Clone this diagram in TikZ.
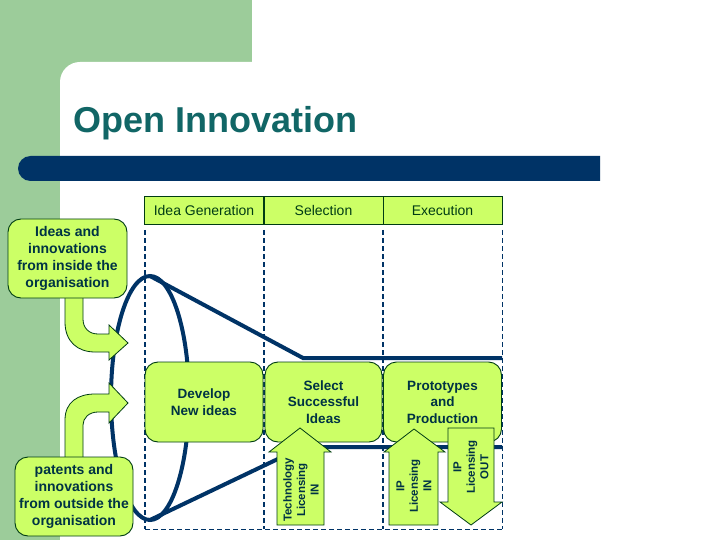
\documentclass[tikz,border=0pt]{standalone}
\usepackage{fontspec}
\setmainfont{Liberation Sans}

\definecolor{slidegreen}{RGB}{156,204,154}
\definecolor{barnavy}{RGB}{0,51,102}
\definecolor{titleteal}{RGB}{17,102,102}
\definecolor{boxlime}{RGB}{204,255,102}
\definecolor{boxedge}{RGB}{0,60,20}
\definecolor{labelink}{RGB}{0,51,68}

\tikzset{
  headbox/.style={draw=boxedge, fill=boxlime, line width=0.9pt, minimum width=119pt, minimum height=28pt, inner sep=0pt, text=boxedge, font=\fontsize{14}{16}\selectfont},
  stagebox/.style={draw=boxedge, fill=boxlime, line width=0.9pt, rounded corners=13pt, minimum width=118pt, minimum height=80pt, inner sep=0pt, align=center, text=labelink, font=\fontsize{13.5}{16.5}\selectfont\bfseries},
  sourcebox/.style={stagebox, minimum width=119pt, minimum height=79pt, font=\fontsize{14}{17}\selectfont\bfseries},
  lanedash/.style={barnavy, line width=1.6pt, dash pattern=on 5pt off 3pt},
  funnel/.style={barnavy, line width=4pt},
  bigarrow/.style={draw=boxedge, fill=boxlime, line width=0.8pt, line join=miter},
  arrowtext/.style={rotate=90, align=center, inner sep=0pt, text=labelink, font=\fontsize{11.5}{13.5}\selectfont\bfseries}
}

\begin{document}
\begin{tikzpicture}[x=1pt,y=-1pt]
\useasboundingbox (0,0) rectangle (720,540);
\fill[white] (0,0) rectangle (720,540);

% slide background
\fill[slidegreen] (0,0) rectangle (252,540);
\fill[white] (60,540) -- (60,82) arc[start angle=180, end angle=270, radius=20] -- (720,62) -- (720,540) -- cycle;

\node[anchor=base west, inner sep=0pt, text=titleteal, font=\fontsize{36}{42}\selectfont\bfseries] (title) at (73,133) {Open Innovation};
\fill[barnavy] (600,156) -- (30.5,156) arc[start angle=270, end angle=90, radius=12.5] -- (600,181) -- cycle;

% stage headers
\node[headbox] (ideagen) at (204,210) {Idea Generation};
\node[headbox] (selection) at (323.5,210) {Selection};
\node[headbox] (execution) at (442.5,210) {Execution};

\foreach \x in {145,264,383}
  \draw[lanedash] (\x,230) -- (\x,529);
\draw[barnavy, line width=0.8pt, dash pattern=on 5pt off 3pt] (502,230) -- (502,529);
\draw[barnavy, line width=0.8pt, dash pattern=on 5pt off 3pt] (145,529) -- (502,529);

% funnel
\coordinate (ftop) at (150,276);
\coordinate (fbot) at (150,520);
\draw[funnel] (150,398) ellipse [x radius=39, y radius=122];
\draw[funnel] (ftop) -- (303,358) -- (502,358);
\draw[funnel] (fbot) -- (303,447) -- (502,447);

\node[stagebox] (develop) at (204,402) {Develop\\New ideas};
\node[stagebox, minimum width=117pt] (select) at (323.5,402) {Select\\Successful\\Ideas};
\node[stagebox] (proto) at (442.5,402) {Prototypes\\and\\Production};

% bent arrows from the sources
\draw[bigarrow] (83,296) -- (83,319) .. controls (83,328) and (89,334) .. (98,334) -- (109,334) -- (109,325)
  -- (128,343) -- (109,360) -- (109,352) -- (95,352) .. controls (78,352) and (65,342) .. (65,322) -- (65,296);
\draw[bigarrow] (65,459) -- (65,420) .. controls (65,402) and (78,394) .. (95,394) -- (109,394) -- (109,383)
  -- (128,403) -- (109,423) -- (109,412) -- (98,412) .. controls (89,412) and (83,418) .. (83,425) -- (83,459);

\node[sourcebox] (inside) at (67.5,258.5) {Ideas and\\innovations\\from inside the\\organisation};
\node[sourcebox, minimum width=118pt] (outside) at (74,496.5) {patents and\\innovations\\from outside the\\organisation};

% licensing arrows
\draw[bigarrow] (277,525) -- (277,452) -- (269,452) -- (300,428) -- (331,452) -- (324,452) -- (324,525) -- cycle;
\draw[bigarrow] (389,525) -- (389,452) -- (384,452) -- (414,429) -- (445,452) -- (438,452) -- (438,525) -- cycle;
\draw[bigarrow] (448,428) -- (494,428) -- (494,502) -- (502,502) -- (471,525) -- (440,502) -- (448,502) -- cycle;

\node[arrowtext] (techin) at (301,490) {Technology\\Licensing\\IN};
\node[arrowtext] (ipin) at (414,486) {IP\\Licensing\\IN};
\node[arrowtext] (ipout) at (471,467) {IP\\Licensing\\OUT};
\end{tikzpicture}
\end{document}
